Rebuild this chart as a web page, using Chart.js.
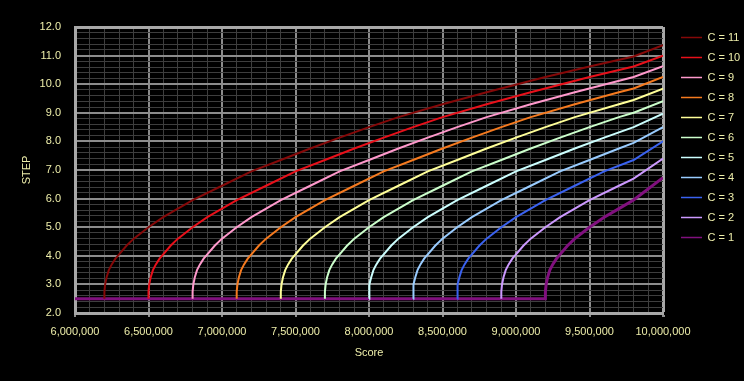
<!DOCTYPE html>
<html>
<head>
<meta charset="utf-8">
<script src="https://cdn.jsdelivr.net/npm/chart.js@4"></script>
<style>
  html, body { margin: 0; padding: 0; background: #000; }
  #wrap { width: 744px; height: 381px; }
</style>
</head>
<body>
<div id="wrap"><canvas id="chart"></canvas></div>
<script>
// [score, step] pairs, one list per C
const c11 = [[6200000,2.5],[6200000,2.75],[6205000,3.0],[6215000,3.25],[6230000,3.5],[6250000,3.7],[6275000,3.9],[6300000,4.05],[6350000,4.35],[6400000,4.6],[6500000,5.0],[6600000,5.35],[6700000,5.65],[6800000,5.95],[7000000,6.45],[7200000,6.95],[7400000,7.35],[7600000,7.75],[7800000,8.13],[8000000,8.5],[8200000,8.85],[8500000,9.3],[8800000,9.72],[9200000,10.25],[9500000,10.62],[9800000,10.97],[10000000,11.36]];
const c10 = [[6500000,2.5],[6500000,2.75],[6505000,3.0],[6515000,3.25],[6530000,3.5],[6550000,3.7],[6575000,3.9],[6600000,4.05],[6650000,4.35],[6700000,4.6],[6800000,5.0],[6900000,5.35],[7000000,5.65],[7100000,5.95],[7300000,6.45],[7500000,6.95],[7700000,7.35],[7900000,7.75],[8100000,8.13],[8300000,8.5],[8500000,8.85],[8800000,9.3],[9100000,9.72],[9500000,10.25],[9800000,10.62],[10000000,11.0]];
const c9 = [[6800000,2.5],[6800000,2.75],[6805000,3.0],[6815000,3.25],[6830000,3.5],[6850000,3.7],[6875000,3.9],[6900000,4.05],[6950000,4.35],[7000000,4.6],[7100000,5.0],[7200000,5.35],[7300000,5.65],[7400000,5.95],[7600000,6.45],[7800000,6.95],[8000000,7.35],[8200000,7.75],[8400000,8.13],[8600000,8.5],[8800000,8.85],[9100000,9.3],[9400000,9.72],[9800000,10.25],[10000000,10.63]];
const c8 = [[7100000,2.5],[7100000,2.75],[7105000,3.0],[7115000,3.25],[7130000,3.5],[7150000,3.7],[7175000,3.9],[7200000,4.05],[7250000,4.35],[7300000,4.6],[7400000,5.0],[7500000,5.35],[7600000,5.65],[7700000,5.95],[7900000,6.45],[8100000,6.95],[8300000,7.35],[8500000,7.75],[8700000,8.13],[8900000,8.5],[9100000,8.85],[9400000,9.3],[9700000,9.72],[9800000,9.85],[10000000,10.25]];
const c7 = [[7400000,2.5],[7400000,2.75],[7405000,3.0],[7415000,3.25],[7430000,3.5],[7450000,3.7],[7475000,3.9],[7500000,4.05],[7550000,4.35],[7600000,4.6],[7700000,5.0],[7800000,5.35],[7900000,5.65],[8000000,5.95],[8200000,6.45],[8400000,6.95],[8600000,7.35],[8800000,7.75],[9000000,8.13],[9200000,8.5],[9400000,8.85],[9700000,9.3],[9800000,9.45],[10000000,9.84]];
const c6 = [[7700000,2.5],[7700000,2.75],[7705000,3.0],[7715000,3.25],[7730000,3.5],[7750000,3.7],[7775000,3.9],[7800000,4.05],[7850000,4.35],[7900000,4.6],[8000000,5.0],[8100000,5.35],[8200000,5.65],[8300000,5.95],[8500000,6.45],[8700000,6.95],[8900000,7.35],[9100000,7.75],[9300000,8.13],[9500000,8.5],[9700000,8.85],[9800000,9.0],[10000000,9.41]];
const c5 = [[8000000,2.5],[8000000,2.75],[8005000,3.0],[8015000,3.25],[8030000,3.5],[8050000,3.7],[8075000,3.9],[8100000,4.05],[8150000,4.35],[8200000,4.6],[8300000,5.0],[8400000,5.35],[8500000,5.65],[8600000,5.95],[8800000,6.45],[9000000,6.95],[9200000,7.35],[9400000,7.75],[9600000,8.13],[9800000,8.5],[10000000,8.97]];
const c4 = [[8300000,2.5],[8300000,2.75],[8305000,3.0],[8315000,3.25],[8330000,3.5],[8350000,3.7],[8375000,3.9],[8400000,4.05],[8450000,4.35],[8500000,4.6],[8600000,5.0],[8700000,5.35],[8800000,5.65],[8900000,5.95],[9100000,6.45],[9300000,6.95],[9500000,7.35],[9700000,7.75],[9800000,7.95],[10000000,8.5]];
const c3 = [[8600000,2.5],[8600000,2.75],[8605000,3.0],[8615000,3.25],[8630000,3.5],[8650000,3.7],[8675000,3.9],[8700000,4.05],[8750000,4.35],[8800000,4.6],[8900000,5.0],[9000000,5.35],[9100000,5.65],[9200000,5.95],[9400000,6.45],[9600000,6.95],[9800000,7.35],[10000000,8.0]];
const c2 = [[8900000,2.5],[8900000,2.75],[8905000,3.0],[8915000,3.25],[8930000,3.5],[8950000,3.7],[8975000,3.9],[9000000,4.05],[9050000,4.35],[9100000,4.6],[9200000,5.0],[9300000,5.35],[9400000,5.65],[9500000,5.95],[9700000,6.45],[9800000,6.7],[10000000,7.4]];
const c1 = [[6000000,2.5],[9200000,2.5],[9200000,2.75],[9205000,3.0],[9215000,3.25],[9230000,3.5],[9250000,3.7],[9275000,3.9],[9300000,4.05],[9350000,4.35],[9400000,4.6],[9500000,5.0],[9600000,5.35],[9700000,5.65],[9800000,5.95],[10000000,6.73]];

const seriesNames = ["C = 11", "C = 10", "C = 9", "C = 8", "C = 7", "C = 6", "C = 5", "C = 4", "C = 3", "C = 2", "C = 1"];
const seriesData = [c11, c10, c9, c8, c7, c6, c5, c4, c3, c2, c1];
const seriesColors = ["#850808", "#e8101a", "#ff99cc", "#f57a1f", "#ffff99", "#ccffcc", "#ccffff", "#99ccff", "#3a62f0", "#cc99ff", "#80107e"];

const xMin = 6000000, xMax = 10000000, xStep = 100000, xMajor = 500000;
const yMin = 2, yMax = 12, yStep = 0.2;

const textColor = "#eeeeaa";
Chart.defaults.font.family = "'Liberation Sans', Arial, sans-serif";
Chart.defaults.font.size = 11;
Chart.defaults.color = textColor;

function isMajorX(v) { return Math.abs(v % xMajor) < 1; }
function isMajorY(v) { return Math.abs(v - Math.round(v)) < 1e-6; }

new Chart(document.getElementById("chart"), {
  type: "line",
  data: {
    datasets: seriesData.map((d, i) => ({
      label: seriesNames[i],
      data: d.map(p => ({x: p[0], y: p[1]})),
      borderColor: seriesColors[i],
      backgroundColor: seriesColors[i],
      borderWidth: i === 10 ? 3 : 2,
      pointRadius: 0,
      tension: 0,
      fill: false
    }))
  },
  options: {
    responsive: true,
    maintainAspectRatio: false,
    animation: false,
    layout: { padding: { top: 23, right: 0, bottom: 0, left: 0 } },
    plugins: {
      tooltip: { enabled: false },
      legend: {
        position: "right",
        align: "start",
        maxWidth: 72,
        labels: {
          color: textColor,
          boxWidth: 21,
          boxHeight: 0,
          padding: 9,
          font: { size: 11 },
          // thinner legend strokes than the plotted lines
          generateLabels: chart => Chart.defaults.plugins.legend.labels.generateLabels(chart)
            .map(l => Object.assign(l, { lineWidth: 1.5 }))
        }
      }
    },
    scales: {
      x: {
        type: "linear",
        min: xMin,
        max: xMax,
        afterFit: s => { s.height = 68; },
        border: { color: "#a8a8a8", width: 3 },
        grid: {
          color: c => c.tick.value === xMax ? "#a8a8a8" : (isMajorX(c.tick.value) ? "#8c8c8c" : "#3e3e3e"),
          lineWidth: c => c.tick.value === xMax ? 3 : (isMajorX(c.tick.value) ? 2 : 1),
          tickColor: c => isMajorX(c.tick.value) ? "#8c8c8c" : "rgba(0,0,0,0)",
          tickLength: 4
        },
        ticks: {
          stepSize: xStep,
          autoSkip: false,
          maxRotation: 0,
          padding: 8,
          color: textColor,
          callback: v => isMajorX(v) ? Number(v).toLocaleString("en-US") : ""
        },
        title: { display: true, text: "Score", color: textColor, font: { size: 11 }, padding: { top: 8, bottom: 21 } }
      },
      y: {
        type: "linear",
        min: yMin,
        max: yMax,
        afterFit: s => { s.width = 75; },
        border: { color: "#a8a8a8", width: 3 },
        grid: {
          color: c => c.tick.value === yMax ? "#a8a8a8" : (isMajorY(c.tick.value) ? "#8c8c8c" : "#3e3e3e"),
          lineWidth: c => c.tick.value === yMax ? 3 : (isMajorY(c.tick.value) ? 2 : 1),
          drawTicks: false
        },
        ticks: {
          stepSize: yStep,
          autoSkip: false,
          padding: 14,
          color: textColor,
          callback: v => isMajorY(v) ? Number(v).toFixed(1) : ""
        },
        title: { display: true, text: "STEP", color: textColor, font: { size: 11 }, padding: { top: 20, bottom: 6 } }
      },
      // empty spacer axes: gap above the plot and between plot and legend
      x2: {
        type: "linear", position: "top", display: true,
        grid: { display: false }, border: { display: false }, ticks: { display: false },
        afterFit: s => { s.height = 4; }
      },
      y2: {
        type: "linear", position: "right", display: true,
        grid: { display: false }, border: { display: false }, ticks: { display: false },
        afterFit: s => { s.width = 9; }
      }
    }
  }
});
</script>
</body>
</html>
